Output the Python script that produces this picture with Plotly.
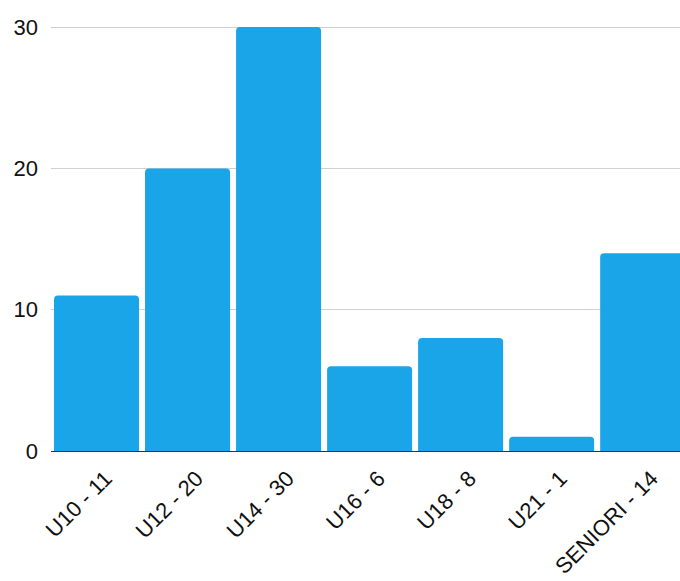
import plotly.graph_objects as go

categories = ["U10 - 11", "U12 - 20", "U14 - 30", "U16 - 6", "U18 - 8", "U21 - 1", "SENIORI - 14"]
values = [11, 20, 30, 6, 8, 1, 14]
y_ticks = [0, 10, 20, 30]

fig = go.Figure(go.Bar(
    x=categories, y=values,
    marker=dict(color="#1ba5e9", cornerradius=4, line=dict(width=0)),
))

fig.update_layout(
    width=680, height=581,
    margin=dict(l=51, r=0, t=20, b=130),
    paper_bgcolor="white", plot_bgcolor="white",
    bargap=0.066,
    showlegend=False,
    font=dict(family="Liberation Sans, Arial, sans-serif", color="#111111"),
)
fig.update_xaxes(
    range=[-0.5, 6.41], automargin=False,
    tickangle=-45, tickfont=dict(size=22),
    ticklabelstandoff=5, ticklabelshift=9,
    showgrid=False, showline=True, linecolor="#333333", linewidth=1,
    ticks="",
)
fig.update_yaxes(
    range=[0, 30.5], tickvals=y_ticks, automargin=False,
    tickfont=dict(size=22),
    showgrid=True, gridcolor="#d0d0d0", gridwidth=1,
    zeroline=False, showline=False, ticks="", ticklabelstandoff=12,
)

fig.write_html(
    "out.html",
    config={"displayModeBar": False},
    post_script="document.body.style.margin='0';document.body.style.overflow='hidden';",
)
